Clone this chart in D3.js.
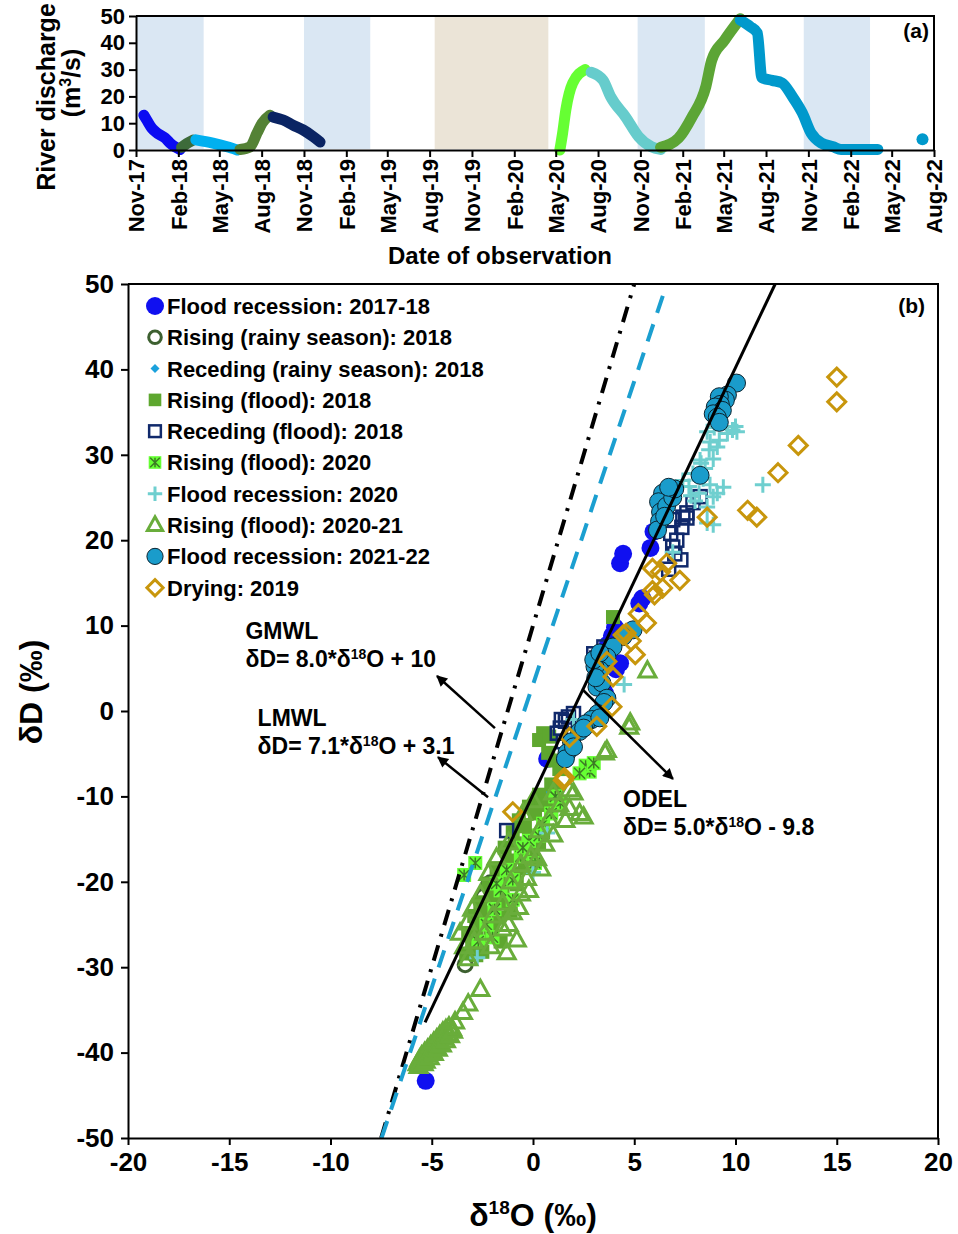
<!DOCTYPE html>
<html>
<head>
<meta charset="utf-8">
<script src="https://cdn.jsdelivr.net/npm/d3@7"></script>
<style>
  body { margin: 0; background: #fff; }
  svg { display: block; font-family: "Liberation Sans", Arial, sans-serif; font-weight: bold; }
</style>
</head>
<body>
<svg id="chart" width="958" height="1234"></svg>
<script>
"use strict";

/*
 * Panel (a): river discharge through time.
 * Panel (b): dual isotope plot (δ18O vs δD) with the three water lines.
 */

// ---------- panel (a) data ----------
var dischargeTicks = ["2017-11-01", "2018-02-01", "2018-05-01", "2018-08-01", "2018-11-01",
  "2019-02-01", "2019-05-01", "2019-08-01", "2019-11-01", "2020-02-01", "2020-05-01",
  "2020-08-01", "2020-11-01", "2021-02-01", "2021-05-01", "2021-08-01", "2021-11-01",
  "2022-02-01", "2022-05-01", "2022-08-01"]
var dischargeYTicks = [0, 10, 20, 30, 40, 50]

var wetBands = [["2017-11-01", "2018-03-28"], ["2018-11-01", "2019-03-25"],
  ["2020-10-26", "2021-03-21"], ["2021-10-22", "2022-03-15"]]
var dryBands = [["2019-08-12", "2020-04-15"]]

var qRecession1718 = [["2017-11-18", 13], ["2017-11-25", 11], ["2017-12-06", 8], ["2017-12-17", 6.3],
  ["2018-01-03", 4.5], ["2018-01-14", 2.6], ["2018-01-25", 1.2], ["2018-02-05", 0.2]]
var qRisingRainy18 = [["2018-02-08", 1], ["2018-02-20", 2.5], ["2018-03-05", 3.7]]
var qRecedingRainy18 = [["2018-03-11", 3.8], ["2018-04-17", 2.6], ["2018-05-18", 1.2], ["2018-06-09", 0]]
var qRisingFlood18 = [["2018-06-15", 0.2], ["2018-07-07", 1.2], ["2018-07-22", 6.3], ["2018-08-02", 10], ["2018-08-19", 13]]
var qRecedingFlood18 = [["2018-08-26", 12.3], ["2018-09-17", 11.2], ["2018-10-08", 9.3], ["2018-10-30", 7.5],
  ["2018-11-21", 5], ["2018-12-06", 3]]
var qRisingFlood20 = [["2020-05-10", 0], ["2020-05-16", 6.3], ["2020-05-23", 15], ["2020-06-07", 25], ["2020-07-04", 30]]
var qRecession20 = [["2020-07-17", 29], ["2020-08-12", 26], ["2020-08-28", 20], ["2020-09-30", 12.3],
  ["2020-10-28", 5], ["2020-11-25", 1.2], ["2020-12-15", 0.2]]
var qRisingFlood2021 = [["2020-12-15", 1], ["2021-01-23", 4.5], ["2021-02-21", 12.3], ["2021-03-23", 23.5],
  ["2021-04-05", 33.5], ["2021-05-03", 41], ["2021-06-06", 49]]
var qRecession2122 = [["2021-06-06", 48.5], ["2021-06-28", 46], ["2021-07-13", 43.7], ["2021-07-23", 27],
  ["2021-08-14", 26], ["2021-09-05", 25], ["2021-09-27", 20], ["2021-10-19", 13.8], ["2021-11-07", 6.3],
  ["2021-11-29", 2.6], ["2021-12-25", 1.2], ["2022-01-11", 0.2], ["2022-04-01", 0.2]]
var qLateObs22 = [["2022-07-07", 4]]

// ---------- panel (b) data : [δ18O, δD] ----------
var isoRecession1718 = [[-5.3, -43.3], [0.7, -5.6], [3.45, 2.6], [3.55, 2.1], [4.1, 4.9], [4.3, 5.6],
  [3.7, 7.8], [3.9, 8.8], [4.05, 9.8], [5.25, 12.6], [5.4, 13.2], [4.3, 17.3], [4.45, 18.4],
  [5.8, 19.1], [5.95, 21.0]]
var isoRisingRainy18 = [[-3.35, -29.7], [-2.2, -20.4], [-2.45, -21.7], [-2.1, -20.1]]
var isoRecedingRainy18 = [[0.25, -10.6], [0.7, -9.4], [0.5, -10.1], [1.1, -8.4]]
var isoRisingFlood18 = [[3.95, 11.0], [0.5, -2.6], [0.3, -3.4], [0.8, -3.0], [0.75, -4.9], [1.05, -5.8],
  [1.3, -6.8], [0.9, -8.6], [0.3, -9.8], [1.1, -9.2], [0.6, -10.5], [-0.2, -11.2], [0.4, -11.0],
  [0.1, -12.0], [-0.7, -12.8], [0.9, -11.6], [-0.4, -13.5], [0.5, -14.2], [-0.2, -14.6], [-1.0, -14.2],
  [-0.9, -15.5], [0.3, -15.4], [0.0, -16.2], [-0.6, -16.8], [-1.4, -16.0], [-1.2, -17.5], [-0.4, -18.4],
  [-1.8, -18.4], [-0.9, -19.0], [-1.6, -19.6], [-0.8, -20.3], [-2.2, -20.2], [-2.0, -21.6],
  [-1.5, -21.4], [-1.3, -22.3], [-2.6, -22.4], [-2.4, -23.6], [-1.1, -23.4], [-1.7, -24.2],
  [-2.9, -24.0], [-2.8, -25.5], [-2.0, -25.2], [-2.1, -26.4], [-3.2, -26.0], [-3.0, -27.4],
  [-1.6, -27.0], [-2.5, -28.2], [-2.8, -28.6], [-3.3, -28.4]]
var isoRecedingFlood18 = [[-1.3, -14.0], [1.2, -2.6], [1.35, -2.0], [1.6, -1.2], [1.75, -0.7], [2.0, -0.3],
  [1.5, -3.6], [1.4, -1.0], [3.0, 6.7], [3.15, 6.2], [3.5, 7.5], [6.7, 16.6], [6.9, 19.2], [7.1, 20.0],
  [7.0, 18.4], [7.3, 17.7], [6.8, 20.8], [7.35, 21.5], [7.4, 22.7], [7.6, 22.6], [7.6, 23.2],
  [7.9, 24.4], [8.25, 25.1], [6.9, 22.4]]
var isoRisingFlood20 = [[-3.4, -19.2], [-2.85, -17.8], [-0.6, -17.0], [-1.0, -19.8], [-1.0, -22.1],
  [1.35, -10.8], [1.1, -10.0], [2.8, -7.1], [2.6, -6.4], [2.3, -7.3], [3.0, -6.1], [0.5, -13.2],
  [-0.2, -15.2], [-1.6, -21.0], [-1.9, -23.2], [-2.3, -25.0], [0.1, -17.8], [0.3, -14.6],
  [-1.3, -18.6], [-2.0, -26.5], [-2.7, -27.0], [-0.5, -16.0], [0.9, -12.0], [-1.8, -20.2]]
var isoRecession20 = [[10.07, 32.7], [9.85, 32.9], [10.0, 33.3], [9.6, 32.5], [8.6, 32.7], [8.95, 33.2],
  [8.75, 31.5], [9.2, 31.7], [9.1, 30.9], [8.7, 30.6], [8.9, 29.5], [8.25, 29.4], [8.5, 28.4],
  [8.3, 29.0], [7.9, 27.8], [7.4, 27.0], [8.74, 26.5], [9.4, 26.2], [8.2, 25.5], [9.1, 25.5],
  [8.9, 25.1], [8.6, 23.9], [8.6, 22.0], [8.9, 21.8], [7.7, 26.3], [8.0, 24.6], [8.4, 27.2],
  [7.8, 25.2], [11.35, 26.5], [6.9, 18.6], [4.5, 3.1], [2.0, -1.0], [0.7, -14.3], [0.0, -18.9],
  [-2.75, -28.9]]
var isoRisingFlood2021 = [[-5.7, -41.3], [-5.65, -41.6], [-5.55, -41.2], [-5.6, -40.8], [-5.45, -40.9],
  [-5.5, -40.4], [-5.4, -41.3], [-5.35, -40.0], [-5.25, -40.3], [-5.2, -39.6], [-5.05, -39.2],
  [-5.0, -39.8], [-4.9, -38.8], [-4.8, -39.3], [-4.75, -38.4], [-4.6, -38.8], [-4.6, -38.0],
  [-4.45, -37.6], [-4.4, -38.3], [-4.3, -37.3], [-4.2, -37.8], [-4.15, -37.0], [-4.0, -37.2],
  [-5.3, -41.0], [-5.1, -40.6], [-4.9, -40.1], [-4.7, -39.6], [-4.5, -39.1], [-4.3, -38.6],
  [-4.1, -38.0], [-3.95, -37.5], [-3.85, -36.4], [-3.46, -35.3], [-3.2, -34.3], [-2.6, -32.6],
  [-3.2, -29.0], [-3.4, -27.6], [-3.6, -26.0], [-3.25, -24.8], [-3.0, -23.2], [-2.9, -27.0],
  [-2.1, -27.6], [-1.3, -28.3], [-0.8, -26.8], [-2.4, -26.0], [-1.5, -25.5], [-1.2, -25.0],
  [-2.0, -24.0], [-1.0, -23.6], [-0.7, -23.0], [-1.5, -22.5], [-2.6, -21.5], [-0.6, -21.4],
  [-0.2, -21.0], [-1.1, -20.0], [-2.2, -19.0], [-0.3, -19.6], [0.4, -18.5], [-0.6, -18.0],
  [-1.8, -17.2], [0.2, -17.3], [-0.1, -17.0], [0.6, -15.6], [-1.2, -15.4], [1.0, -14.5],
  [0.3, -14.0], [0.8, -12.6], [1.6, -12.8], [-0.5, -12.0], [1.3, -11.0], [0.0, -10.5],
  [1.0, -9.6], [1.8, -11.4], [2.3, -12.0], [2.5, -12.4], [1.8, -9.2], [2.0, -9.6], [3.55, -4.9],
  [3.65, -4.6], [4.75, -1.9], [4.8, -1.4], [5.65, 4.7]]
var isoRecession2122 = [[10.05, 38.4], [9.6, 37.0], [9.5, 36.4], [9.2, 36.8], [9.25, 35.9], [9.0, 35.6],
  [9.35, 35.2], [8.9, 34.8], [9.1, 34.4], [9.2, 33.8], [8.25, 27.6], [6.4, 25.5], [6.2, 24.5],
  [6.3, 23.3], [6.25, 22.2], [6.15, 21.2], [6.6, 24.0], [6.5, 22.8], [6.9, 25.0], [7.0, 26.0],
  [6.7, 26.2], [4.94, 9.5], [4.44, 8.7], [3.95, 7.5], [3.65, 6.3], [3.3, 4.8], [3.16, 2.8],
  [3.06, 5.2], [3.4, 3.3], [3.1, 3.9], [3.0, 6.0], [3.3, 6.8], [3.65, 1.5], [3.5, 1.0], [3.2, -0.3],
  [2.9, -1.0], [2.6, -1.5], [2.3, -2.4], [1.9, -3.6], [1.68, -4.9], [1.6, -5.6], [2.0, -4.2],
  [2.5, -2.0], [3.3, -0.8]]
var isoDrying19 = [[15.0, 39.1], [15.0, 36.2], [13.1, 31.1], [12.1, 27.9], [10.6, 23.5], [11.05, 22.7],
  [8.6, 22.7], [5.9, 16.7], [6.6, 17.3], [7.25, 15.3], [6.3, 16.3], [5.9, 14.1], [6.0, 13.6],
  [6.4, 14.4], [5.2, 11.4], [5.6, 10.3], [4.6, 9.1], [4.85, 8.2], [4.45, 8.9], [5.05, 6.6],
  [3.65, 5.8], [3.95, 4.0], [3.9, 0.5], [3.15, -1.8], [1.8, -3.1], [1.55, -7.8], [1.5, -8.1],
  [-1.0, -11.8]]

var legendLabels = ["Flood recession: 2017-18", "Rising (rainy season): 2018", "Receding (rainy season): 2018",
  "Rising (flood): 2018", "Receding (flood): 2018", "Rising (flood): 2020", "Flood recession: 2020",
  "Rising (flood): 2020-21", "Flood recession: 2021-22", "Drying: 2019"]

// water lines δD = slope * δ18O + intercept, drawn between two δ18O values
var lineNames = ["GMWL", "LMWL", "ODEL"]
var lineSlopes = [8.0, 7.1, 5.0]
var lineIntercepts = [10, 3.1, -9.8]
var lineFromO = [-7.5, -7.48, -5.33]
var lineToO = [5.0, 6.6, 11.96]

// ---------- styles ----------
var qColors = ["#0b0bf2", "#3d6b3a", "#00b0f0", "#548235", "#0a2463", "#66ff33", "#66cccc", "#5ca535", "#0099cc"]

var markerStyles = [
  { shape: "circle", size: 9, fill: "#1010f0", stroke: "none", sw: 0 },
  { shape: "circle", size: 7, fill: "none", stroke: "#3d6030", sw: 3 },
  { shape: "diamond", size: 10, fill: "#1ba1dc", stroke: "none", sw: 0 },
  { shape: "square", size: 14, fill: "#5ea72f", stroke: "none", sw: 0 },
  { shape: "square", size: 13, fill: "none", stroke: "#10296b", sw: 2.5 },
  { shape: "star", size: 14, fill: "#66ff33", stroke: "#3d7a26", sw: 1.5 },
  { shape: "plus", size: 16, fill: "none", stroke: "#6fcfcf", sw: 3 },
  { shape: "triangle", size: 17, fill: "none", stroke: "#69ad3b", sw: 3 },
  { shape: "circle", size: 9, fill: "#1a9ccb", stroke: "#0b2430", sw: 1 },
  { shape: "diamond", size: 18, fill: "none", stroke: "#c8960c", sw: 3 }
]

var svg = d3.select("#chart")
var parse = d3.timeParse("%Y-%m-%d")

svg.append("rect").attr("width", 958).attr("height", 1234).attr("fill", "#fff")

// =================== panel (a) ===================
var xA = d3.scaleTime().domain([parse("2017-11-01"), parse("2022-08-01")]).range([136, 934])
var yA = d3.scaleLinear().domain([0, 50]).range([150, 16])

var panelA = svg.append("g")

function band(list, color) {
  panelA.append("g").selectAll("rect")
    .data(list)
    .join("rect")
      .attr("x", function(d) { return xA(parse(d[0])) })
      .attr("width", function(d) { return xA(parse(d[1])) - xA(parse(d[0])) })
      .attr("y", yA(50) + 1)
      .attr("height", yA(0) - yA(50) - 2)
      .attr("fill", color)
}
band(wetBands, "#dae7f3")
band(dryBands, "#ebe4d7")

var qSeries = [qRecession1718, qRisingRainy18, qRecedingRainy18, qRisingFlood18, qRecedingFlood18,
  qRisingFlood20, qRecession20, qRisingFlood2021, qRecession2122]

var qLine = d3.line()
  .x(function(d) { return xA(parse(d[0])) })
  .y(function(d) { return yA(d[1]) })
  .curve(d3.curveMonotoneX)

panelA.append("g").selectAll("path")
  .data(qSeries)
  .join("path")
    .attr("d", qLine)
    .attr("fill", "none")
    .attr("stroke", function(d, i) { return qColors[i] })
    .attr("stroke-width", 11)
    .attr("stroke-linecap", "round")
    .attr("stroke-linejoin", "round")

panelA.append("g").selectAll("circle")
  .data(qLateObs22)
  .join("circle")
    .attr("cx", function(d) { return xA(parse(d[0])) })
    .attr("cy", function(d) { return yA(d[1]) })
    .attr("r", 6)
    .attr("fill", qColors[8])

// frame top/right
panelA.append("path")
  .attr("d", "M" + xA.range()[0] + "," + yA(50) + "H" + xA.range()[1] + "V" + yA(0))
  .attr("fill", "none").attr("stroke", "#000").attr("stroke-width", 2)

var axA = panelA.append("g")
  .attr("transform", "translate(0," + yA(0) + ")")
  .call(d3.axisBottom(xA)
    .tickValues(dischargeTicks.map(parse))
    .tickFormat(d3.timeFormat("%b-%y"))
    .tickSize(7)
    .tickSizeOuter(0))
axA.selectAll("text")
  .attr("transform", "rotate(-90)")
  .attr("x", -9).attr("y", 0).attr("dy", "0.36em")
  .style("text-anchor", "end")
  .style("font-size", "22px")

var ayA = panelA.append("g")
  .attr("transform", "translate(" + xA.range()[0] + ",0)")
  .call(d3.axisLeft(yA).tickValues(dischargeYTicks).tickSize(7).tickSizeOuter(0))
ayA.selectAll("text").attr("x", -11).style("font-size", "22px")

panelA.selectAll(".domain").attr("stroke-width", 2)
panelA.selectAll(".tick line").attr("stroke-width", 2)
panelA.selectAll(".tick text").attr("fill", "#000").style("font-family", "Liberation Sans, Arial, sans-serif")

panelA.append("text")
  .attr("transform", "translate(55,97) rotate(-90)")
  .attr("text-anchor", "middle")
  .style("font-size", "25px")
  .text("River discharge")
var unitA = panelA.append("text")
  .attr("transform", "translate(80,83) rotate(-90)")
  .attr("text-anchor", "middle")
  .style("font-size", "25px")
unitA.append("tspan").text("(m")
unitA.append("tspan").attr("dy", -9).style("font-size", "16px").text("3")
unitA.append("tspan").attr("dy", 9).text("/s)")

panelA.append("text")
  .attr("x", 500).attr("y", 264)
  .attr("text-anchor", "middle")
  .style("font-size", "24px")
  .text("Date of observation")

panelA.append("text")
  .attr("x", 929).attr("y", 38)
  .attr("text-anchor", "end")
  .style("font-size", "21px")
  .text("(a)")

// =================== panel (b) ===================
var xB = d3.scaleLinear().domain([-20, 20]).range([128, 938])
var yB = d3.scaleLinear().domain([-50, 50]).range([1138, 284])

var panelB = svg.append("g")

function drawMarker(g, st, k) {
  var s = st.size * k
  if (st.shape === "circle") {
    g.append("circle").attr("r", s)
  } else if (st.shape === "square") {
    g.append("rect").attr("x", -s / 2).attr("y", -s / 2).attr("width", s).attr("height", s)
  } else if (st.shape === "diamond") {
    g.append("path").attr("d", "M0," + (-s / 2) + "L" + (s / 2) + ",0L0," + (s / 2) + "L" + (-s / 2) + ",0Z")
  } else if (st.shape === "triangle") {
    var h = s * 0.9
    g.append("path").attr("d", "M0," + (-h * 0.6) + "L" + (s / 2) + "," + (h * 0.4) + "L" + (-s / 2) + "," + (h * 0.4) + "Z")
  } else if (st.shape === "plus") {
    g.append("path").attr("d", "M" + (-s / 2) + ",0H" + (s / 2) + "M0," + (-s / 2) + "V" + (s / 2))
  } else if (st.shape === "star") {
    var a = s / 2 - 1.5
    g.append("rect").attr("x", -s / 2).attr("y", -s / 2).attr("width", s).attr("height", s)
      .attr("fill", st.fill).attr("stroke", "none")
    g.append("path")
      .attr("d", "M" + (-a) + "," + (-a) + "L" + a + "," + a + "M" + a + "," + (-a) + "L" + (-a) + "," + a + "M0," + (-a) + "V" + a)
      .attr("fill", "none").attr("stroke", st.stroke).attr("stroke-width", st.sw)
    return
  }
  g.selectAll("*")
    .attr("fill", st.fill)
    .attr("stroke", st.stroke)
    .attr("stroke-width", st.sw)
}

var isoSeries = [isoRecession1718, isoRisingRainy18, isoRecedingRainy18, isoRisingFlood18, isoRecedingFlood18,
  isoRisingFlood20, isoRecession20, isoRisingFlood2021, isoRecession2122, isoDrying19]

isoSeries.forEach(function(series, i) {
  panelB.append("g").selectAll("g")
    .data(series)
    .join("g")
      .attr("transform", function(d) { return "translate(" + xB(d[0]) + "," + yB(d[1]) + ")" })
      .each(function() { drawMarker(d3.select(this), markerStyles[i], 1) })
})

// water lines
var lineDash = ["16,9,3,9", "18,12", null]
var lineColor = ["#000", "#1b9fd0", "#000"]
var lineWidth = [4, 4, 3]
panelB.append("g").selectAll("line")
  .data(lineNames)
  .join("line")
    .attr("x1", function(d, i) { return xB(lineFromO[i]) })
    .attr("y1", function(d, i) { return yB(lineSlopes[i] * lineFromO[i] + lineIntercepts[i]) })
    .attr("x2", function(d, i) { return xB(lineToO[i]) })
    .attr("y2", function(d, i) { return yB(lineSlopes[i] * lineToO[i] + lineIntercepts[i]) })
    .attr("stroke", function(d, i) { return lineColor[i] })
    .attr("stroke-width", function(d, i) { return lineWidth[i] })
    .attr("stroke-dasharray", function(d, i) { return lineDash[i] })

// annotations (positions in data units)
var noteAt = [[-14.2, 8.4], [-13.6, -1.7], [4.45, -11.2]]
var arrowFrom = [[-1.88, -2.0], [-2.22, -10.1], [2.47, 2.46]]
var arrowTo = [[-4.74, 4.1], [-4.69, -5.4], [6.91, -7.96]]

svg.append("defs").append("marker")
  .attr("id", "head")
  .attr("viewBox", "0 0 10 10")
  .attr("refX", 9).attr("refY", 5)
  .attr("markerUnits", "userSpaceOnUse")
  .attr("markerWidth", 13).attr("markerHeight", 11)
  .attr("orient", "auto")
  .append("path").attr("d", "M0,0L10,5L0,10Z").attr("fill", "#000")

lineNames.forEach(function(name, i) {
  panelB.append("line")
    .attr("x1", xB(arrowFrom[i][0])).attr("y1", yB(arrowFrom[i][1]))
    .attr("x2", xB(arrowTo[i][0])).attr("y2", yB(arrowTo[i][1]))
    .attr("stroke", "#000").attr("stroke-width", 2.5)
    .attr("marker-end", "url(#head)")

  var tx = xB(noteAt[i][0]), ty = yB(noteAt[i][1])
  panelB.append("text").attr("x", tx).attr("y", ty).style("font-size", "23px").text(name)
  var eq = panelB.append("text").attr("x", tx).attr("y", ty + 28).style("font-size", "23px")
  var b = lineIntercepts[i]
  eq.append("tspan").text("δD= " + lineSlopes[i].toFixed(1) + "*δ")
  eq.append("tspan").attr("dy", -8).style("font-size", "14px").text("18")
  eq.append("tspan").attr("dy", 8).text("O " + (b < 0 ? "- " : "+ ") + Math.abs(b))
})

// frame top/right
panelB.append("path")
  .attr("d", "M" + xB(-20) + "," + yB(50) + "H" + xB(20) + "V" + yB(-50))
  .attr("fill", "none").attr("stroke", "#000").attr("stroke-width", 2)

var axB = panelB.append("g")
  .attr("transform", "translate(0," + yB(-50) + ")")
  .call(d3.axisBottom(xB).tickValues(d3.range(-20, 21, 5)).tickFormat(String).tickSize(7).tickSizeOuter(0))
axB.selectAll("text").attr("y", 15).style("font-size", "26px")

var ayB = panelB.append("g")
  .attr("transform", "translate(" + xB(-20) + ",0)")
  .call(d3.axisLeft(yB).tickValues(d3.range(-50, 51, 10)).tickFormat(String).tickSize(7).tickSizeOuter(0))
ayB.selectAll("text").attr("x", -14).style("font-size", "26px")

panelB.selectAll(".domain").attr("stroke-width", 2)
panelB.selectAll(".tick line").attr("stroke-width", 2)
panelB.selectAll(".tick text").attr("fill", "#000").style("font-family", "Liberation Sans, Arial, sans-serif")

var xlab = panelB.append("text")
  .attr("x", 533).attr("y", 1226)
  .attr("text-anchor", "middle")
  .style("font-size", "32px")
xlab.append("tspan").text("δ")
xlab.append("tspan").attr("dy", -12).style("font-size", "19px").text("18")
xlab.append("tspan").attr("dy", 12).text("O (‰)")

panelB.append("text")
  .attr("transform", "translate(42,692) rotate(-90)")
  .attr("text-anchor", "middle")
  .style("font-size", "32px")
  .text("δD (‰)")

panelB.append("text")
  .attr("x", 925).attr("y", 313)
  .attr("text-anchor", "end")
  .style("font-size", "21px")
  .text("(b)")

// legend
var legend = panelB.append("g")
  .selectAll("g")
  .data(legendLabels)
  .join("g")
    .attr("transform", function(d, i) { return "translate(155," + (306 + i * 31.3) + ")" })

legend.each(function(d, i) {
  drawMarker(d3.select(this), markerStyles[i], i === 0 ? 1 : 0.9)
})
legend.append("text")
  .attr("x", 12)
  .attr("dy", "0.36em")
  .style("font-size", "22px")
  .text(function(d) { return d })
</script>
</body>
</html>
